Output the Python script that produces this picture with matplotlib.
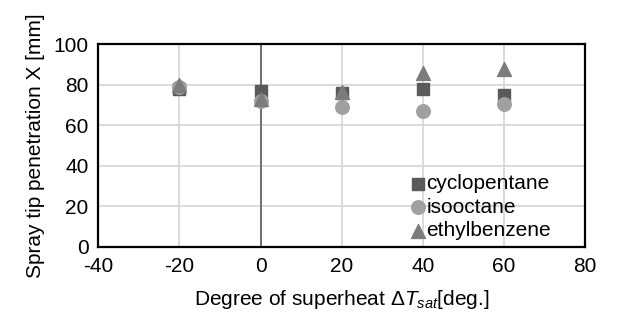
import numpy as np
import matplotlib.pyplot as plt

plt.rcParams['font.family'] = ['Liberation Sans', 'DejaVu Sans']
plt.rcParams['mathtext.fontset'] = 'custom'
plt.rcParams['mathtext.rm'] = 'Liberation Sans'
plt.rcParams['mathtext.it'] = 'Liberation Sans:italic'
plt.rcParams['axes.unicode_minus'] = False

# superheat degree and tip penetration for each fuel
dT = [-20, 0, 20, 40, 60]
cyclopentane = [78, 77, 76, 78, 75]
isooctane = [79, 72, 69, 67, 70.5]
ethylbenzene = [80, 73, 76.5, 85.5, 87.5]

xticks = [-40, -20, 0, 20, 40, 60, 80]
yticks = [0, 20, 40, 60, 80, 100]

fig = plt.figure(figsize=(6.3, 3.24), dpi=100)
ax = fig.add_axes([0.156, 0.238, 0.773, 0.626])

ax.scatter(dT, cyclopentane, marker='s', s=75, color='#5a5a5a', label='cyclopentane', zorder=3)
ax.scatter(dT, isooctane, marker='o', s=95, color='#a0a0a0', label='isooctane', zorder=3)
ax.scatter(dT, ethylbenzene, marker='^', s=100, color='#7c7c7c', label='ethylbenzene', zorder=4)

ax.set_xlim(-40, 80)
ax.set_ylim(0, 100)
ax.set_xticks(xticks)
ax.set_yticks(yticks)
ax.grid(True, color='#d4d4d4', linewidth=1.2, zorder=0)
ax.set_axisbelow(True)
ax.axvline(0, color='#666666', linewidth=1.3, zorder=1)
ax.tick_params(length=0, labelsize=15, pad=7)
for sp in ax.spines.values():
    sp.set_linewidth(1.6)
    sp.set_color('black')

ax.set_xlabel(r'Degree of superheat $\mathit{\Delta T}_{\mathit{sat}}$[deg.]', fontsize=15, labelpad=9)
ax.set_ylabel('Spray tip penetration X [mm]', fontsize=15, labelpad=6)

ax.legend(loc='lower right', bbox_to_anchor=(0.955, -0.03), frameon=False, fontsize=15,
          handletextpad=-0.1, labelspacing=0.22, borderaxespad=0.2, handlelength=1.0)

fig.savefig('out.png', dpi=100)
